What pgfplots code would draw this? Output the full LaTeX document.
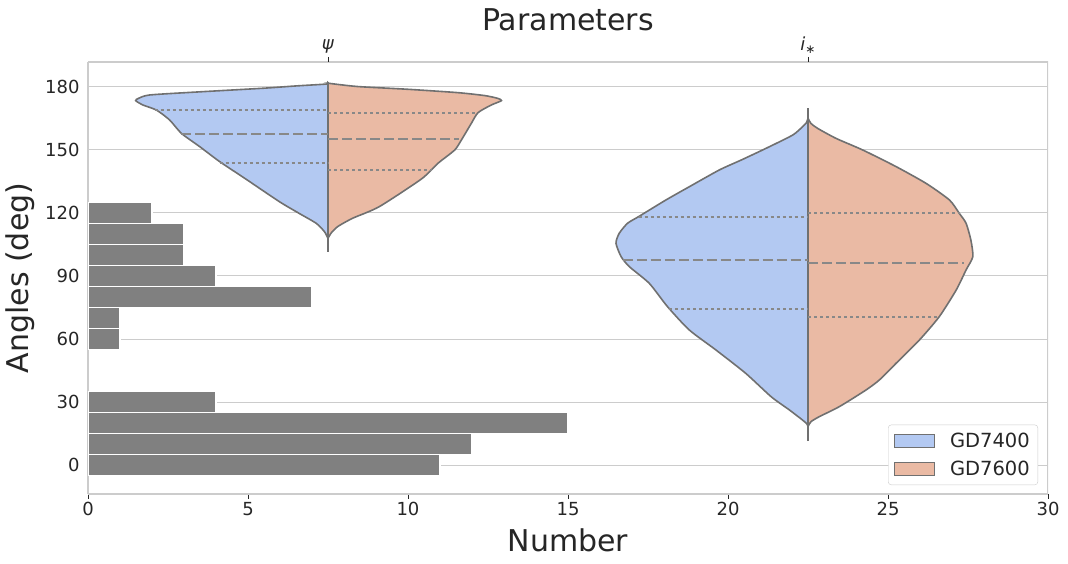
\documentclass[border=0pt]{standalone}
\usepackage{pgfplots}
\pgfplotsset{compat=1.18}
\usepackage{fontspec}
\setmainfont{DejaVu Sans}
\definecolor{txt}{HTML}{262626}
\definecolor{spine}{HTML}{CCCCCC}
\definecolor{cblue}{HTML}{B3C9F2}
\definecolor{csalm}{HTML}{EABAA4}
\definecolor{outl}{HTML}{707070}
\definecolor{qline}{HTML}{888888}
\definecolor{barg}{HTML}{808080}
\newcommand{\fs}[1]{\fontsize{#1}{#1}\selectfont}
\pgfplotsset{
  vleg/.style={legend image code/.code={\draw[sharp corners,##1] (0pt,-6.5pt) rectangle (40pt,6.5pt);}},
  vhalf/.style={draw=outl, line width=1.6pt, smooth, tension=0.4, forget plot},
  qdot/.style={qline, line width=2pt, dash pattern=on 3pt off 3pt, forget plot},
  qdash/.style={qline, line width=2pt, dash pattern=on 10pt off 4pt, forget plot},
}
\begin{document}
\begin{tikzpicture}[x=1pt,y=1pt]
\begin{axis}[
  at={(88pt,70pt)}, anchor=south west,
  scale only axis, width=960pt, height=432pt,
  xmin=0, xmax=30, ymin=-13.8, ymax=191.9,
  xtick={0,5,...,30}, ytick={0,30,...,180},
  ymajorgrids, grid style={spine, line width=1pt},
  axis line style={spine, line width=1.3pt},
  axis x line*=bottom, axis y line*=left,
  x axis line style={-}, y axis line style={-},
  tick align=outside, major tick length=5pt,
  xtick style={txt, line width=0.9pt},
  ytick style={draw=none},
  tick label style={font=\fs{18}, text=txt},
  /pgf/number format/assume math mode=true,
  xlabel={Number}, ylabel={Angles (deg)},
  label style={font=\fs{30}, text=txt},
  xlabel style={at={(axis description cs:0.5,0)}, anchor=base, yshift=-58pt},
  ylabel style={at={(axis description cs:0,0.5)}, anchor=base, yshift=59pt},
  legend style={at={(rel axis cs:0.9896,0.0208)}, anchor=south east,
    draw=spine, rounded corners=3pt, font=\fs{19.5}, text=txt,
    inner xsep=6pt, inner ysep=6pt, row sep=8pt,
    /tikz/every odd column/.append style={column sep=13pt}},
  legend cell align=left,
]
% histogram
\addplot[xbar, bar width=10, fill=barg, draw=white, line width=1.2pt, forget plot]
 coordinates {(11,0) (12,10) (15,20) (4,30) (1,60) (1,70) (7,80) (4,90) (3,100) (3,110) (2,120)};
% psi left
\addplot[fill=cblue, vhalf] coordinates {
(7.50,182.0) (7.45,181.4) (6.5,180.5) (5.47,179.4) (3.39,177.6) (1.93,176.2) (1.58,174.6) (1.49,173.5)
(1.72,171.4) (2.14,169.0) (2.55,164.3) (2.92,157.9) (3.49,151.6) (4.12,144.4) (4.9,136.5)
(5.98,125.4) (6.6,119.8) (7.13,115.1) (7.39,111.1) (7.5,107.9)} -- cycle;
% psi right
\addplot[fill=csalm, vhalf] coordinates {
(7.5,181.9) (7.55,181.7) (8.44,180.2) (10.0,178.9) (11.56,177.3) (12.4,175.9) (12.8,174.6) (12.92,173.5)
(12.6,171.4) (12.19,167.8) (11.98,162.7) (11.67,154.8) (11.46,150.0) (10.94,143.7) (10.42,136.2)
(9.1,123.0) (8.27,117.5) (7.8,113.5) (7.59,110.3) (7.5,107.9)} -- cycle;
% istar left
\addplot[fill=cblue, vhalf] coordinates {
(22.5,165.1) (22.45,163.0) (22.33,161.1) (22.02,157.1) (21.19,150.8) (20.41,145.2) (19.73,140.5)
(18.79,132.5) (18.06,126.2) (17.21,118.3) (16.86,115.1) (16.6,110.3) (16.5,105.6) (16.66,99.2)
(16.92,94.4) (17.54,86.5) (18.11,75.4) (18.79,64.3) (19.62,54.8) (20.55,43.7)
(21.35,32.5) (21.92,26.2) (22.33,21.4) (22.47,19.5) (22.5,18.3)} -- cycle;
% istar right
\addplot[fill=csalm, vhalf] coordinates {
(22.5,165.1) (22.59,162.7) (22.8,160.3) (23.38,155.5) (24.21,150.0) (25.25,142.1) (26.19,134.1)
(26.92,126.2) (27.23,119.8) (27.44,115.1) (27.59,107.1) (27.65,99.2) (27.44,92.9) (27.13,83.3)
(26.6,70.6) (25.98,59.5) (25.25,48.4) (24.73,40.5) (24.31,35.7) (23.48,27.8) (22.85,23.0)
(22.59,20.6) (22.5,18.3)} -- cycle;
% center lines
\addplot[outl, line width=1.6pt, forget plot] coordinates {(7.5,101.6) (7.5,182.2)};
\addplot[outl, line width=1.6pt, forget plot] coordinates {(22.5,11.4) (22.5,170.1)};
% quartiles psi
\addplot[qdot] coordinates {(2.08,169.1) (7.5,169.1)};
\addplot[qdash] coordinates {(2.92,157.8) (7.5,157.8)};
\addplot[qdot] coordinates {(4.11,143.8) (7.5,143.8)};
\addplot[qdot] coordinates {(7.5,167.8) (12.14,167.8)};
\addplot[qdash] coordinates {(7.5,155.2) (11.6,155.2)};
\addplot[qdot] coordinates {(7.5,140.6) (10.75,140.6)};
% quartiles istar
\addplot[qdot] coordinates {(17.21,118.3) (22.5,118.3)};
\addplot[qdash] coordinates {(16.71,97.6) (22.5,97.6)};
\addplot[qdot] coordinates {(18.17,74.3) (22.5,74.3)};
\addplot[qdot] coordinates {(22.5,120.0) (27.25,120.0)};
\addplot[qdash] coordinates {(22.5,96.2) (27.39,96.2)};
\addplot[qdot] coordinates {(22.5,70.5) (26.6,70.5)};
% legend
\addlegendimage{fill=cblue, draw=outl, line width=0.8pt, vleg}
\addlegendentry{GD7400}
\addlegendimage{fill=csalm, draw=outl, line width=0.8pt, vleg}
\addlegendentry{GD7600}
% right and top spines
\draw[spine, line width=1.3pt] (rel axis cs:1,0) -- (rel axis cs:1,1) -- (rel axis cs:0,1);
\end{axis}
\begin{axis}[
  at={(88pt,70pt)}, anchor=south west,
  scale only axis, width=960pt, height=432pt,
  xmin=0, xmax=30, ymin=-13.8, ymax=191.9,
  axis x line*=top, axis y line=none,
  axis line style={draw=none},
  xtick={7.5,22.5}, xticklabels={\textit{ψ}, \textit{i}\raisebox{-0.35ex}{\fs{12}∗}},
  tick align=outside, major tick length=5pt,
  xtick style={txt, line width=0.9pt},
  tick label style={font=\fs{18}, text=txt},
  title={Parameters}, title style={font=\fs{30}, text=txt, at={(0.5,1)}, anchor=base, yshift=25pt},
]
\end{axis}
\pgfresetboundingbox
\path (0,0) rectangle (1068pt,564pt);
\end{tikzpicture}
\end{document}
